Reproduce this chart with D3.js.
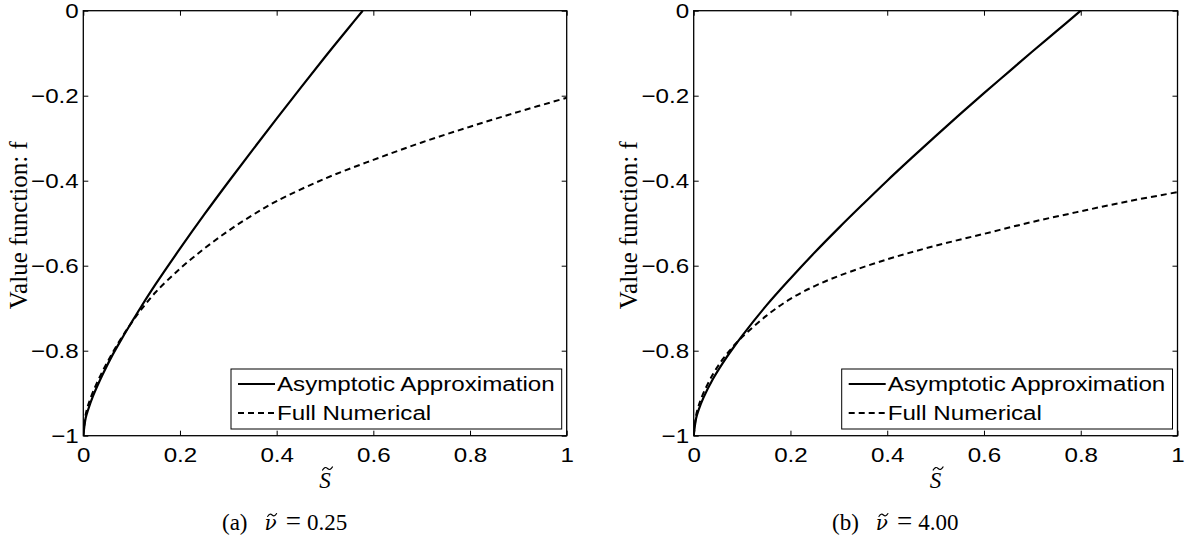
<!DOCTYPE html>
<html>
<head>
<meta charset="utf-8">
<script src="https://cdn.jsdelivr.net/npm/d3@7"></script>
<style>
  html, body { margin: 0; padding: 0; background: #fff; }
  svg { display: block; }
</style>
</head>
<body>
<svg id="fig" width="1194" height="542"></svg>
<script>
// Tick values shared by both panels
const xTicks = [0, 0.2, 0.4, 0.6, 0.8, 1];
const yTicks = [0, -0.2, -0.4, -0.6, -0.8, -1];

// Panel (a): nu = 0.25
const aAsymS = [0, 0.005, 0.01, 0.02, 0.04, 0.06, 0.08, 0.1, 0.12, 0.15, 0.2, 0.25, 0.3, 0.35, 0.4, 0.45, 0.5, 0.55, 0.578];
const aAsymF = [-1, -0.958, -0.939, -0.907, -0.856, -0.811, -0.771, -0.733, -0.696, -0.643, -0.560, -0.480, -0.403, -0.328, -0.254, -0.181, -0.109, -0.039, 0];
const aNumS  = [0, 0.005, 0.01, 0.02, 0.04, 0.06, 0.08, 0.1, 0.12, 0.15, 0.2, 0.25, 0.3, 0.35, 0.4, 0.5, 0.6, 0.7, 0.8, 0.9, 1.0];
const aNumF  = [-1, -0.95, -0.928, -0.897, -0.848, -0.806, -0.768, -0.734, -0.703, -0.662, -0.607, -0.560, -0.518, -0.481, -0.448, -0.395, -0.351, -0.310, -0.273, -0.238, -0.205];

// Panel (b): nu = 4.00
const bAsymS = [0, 0.005, 0.01, 0.02, 0.04, 0.06, 0.08, 0.1, 0.15, 0.2, 0.25, 0.3, 0.35, 0.4, 0.45, 0.5, 0.55, 0.6, 0.65, 0.7, 0.75, 0.8];
const bAsymF = [-1, -0.959, -0.940, -0.911, -0.866, -0.829, -0.796, -0.765, -0.694, -0.630, -0.569, -0.511, -0.455, -0.400, -0.347, -0.295, -0.244, -0.194, -0.145, -0.096, -0.048, 0];
const bNumS  = [0, 0.005, 0.01, 0.02, 0.04, 0.06, 0.08, 0.1, 0.15, 0.2, 0.25, 0.3, 0.4, 0.5, 0.6, 0.7, 0.8, 0.9, 1.0];
const bNumF  = [-1, -0.952, -0.930, -0.900, -0.855, -0.820, -0.792, -0.768, -0.718, -0.678, -0.648, -0.624, -0.585, -0.553, -0.525, -0.497, -0.472, -0.448, -0.427];

const legendLabels = ["Asymptotic Approximation", "Full Numerical"];
const yLabel = "Value function: f";

const svg = d3.select("#fig");
const sans = "'Liberation Sans', Arial, Helvetica, sans-serif";
const serif = "'Liberation Serif', 'DejaVu Serif', serif";
const SX = 1.15;   // horizontal stretch of the sans-serif glyphs

function zip(xs, ys) { return xs.map((x, i) => [x, ys[i]]); }

// Small tilde accent centred at (cx, cy)
function tilde(parent, cx, cy, w) {
  const a = cx - w / 2, h = w * 0.16;
  parent.append("path")
    .attr("d", `M${a},${cy + h} Q${a + w * 0.25},${cy - h * 1.6} ${a + w * 0.5},${cy} T${a + w},${cy - h}`)
    .attr("fill", "none").attr("stroke", "#000").attr("stroke-width", 1.1)
    .attr("stroke-linecap", "round");
}

function panel(cfg) {
  const { left, right, top, bottom } = cfg;
  const x = d3.scaleLinear().domain([0, 1]).range([left, right]);
  const y = d3.scaleLinear().domain([-1, 0]).range([bottom, top]);
  const g = svg.append("g");
  const fmt = v => (v === 0 ? "0" : String(v).replace("-", "\u2212"));

  // Bottom axis with inward ticks and labels
  const xb = g.append("g").attr("transform", `translate(0,${bottom})`)
    .call(d3.axisBottom(x).tickValues(xTicks).tickSize(-5).tickPadding(11).tickFormat(fmt));
  // Top axis (ticks only)
  const xt = g.append("g").attr("transform", `translate(0,${top})`)
    .call(d3.axisTop(x).tickValues(xTicks).tickSize(-5).tickFormat(""));
  // Left axis with labels
  const yl = g.append("g").attr("transform", `translate(${left},0)`)
    .call(d3.axisLeft(y).tickValues(yTicks).tickSize(-5).tickPadding(4).tickFormat(fmt));
  // Right axis (ticks only)
  const yr = g.append("g").attr("transform", `translate(${right},0)`)
    .call(d3.axisRight(y).tickValues(yTicks).tickSize(-5).tickFormat(""));

  [xb, xt, yl, yr].forEach(a => {
    a.select(".domain").remove();
    a.selectAll(".tick line").attr("stroke", "#000").attr("stroke-width", 1);
    a.selectAll("text").attr("font-family", sans).attr("font-size", 21).attr("fill", "#000")
      .attr("transform", `scale(${SX},1)`);
  });
  xb.selectAll("text").attr("dy", "0.71em");

  // Axes frame
  g.append("rect").attr("x", left).attr("y", top)
    .attr("width", right - left).attr("height", bottom - top)
    .attr("fill", "none").attr("stroke", "#000").attr("stroke-width", 1.3);

  // Curves
  const line = d3.line().x(d => x(d[0])).y(d => y(d[1])).curve(d3.curveCatmullRom.alpha(0.5));
  const clipId = "clip" + cfg.id;
  svg.append("clipPath").attr("id", clipId).append("rect")
    .attr("x", left).attr("y", top - 1).attr("width", right - left).attr("height", bottom - top + 2);
  g.append("path").datum(zip(cfg.numS, cfg.numF))
    .attr("d", line).attr("fill", "none").attr("stroke", "#000")
    .attr("stroke-width", 2).attr("stroke-dasharray", "6,4")
    .attr("clip-path", `url(#${clipId})`);
  g.append("path").datum(zip(cfg.asymS, cfg.asymF))
    .attr("d", line).attr("fill", "none").attr("stroke", "#000")
    .attr("stroke-width", 2.2)
    .attr("clip-path", `url(#${clipId})`);

  // Legend
  const lx = cfg.legendX, ly = 369, lw = right - 5 - lx, lh = 60;
  const lg = g.append("g");
  lg.append("rect").attr("x", lx).attr("y", ly).attr("width", lw).attr("height", lh)
    .attr("fill", "#fff").attr("stroke", "#000").attr("stroke-width", 1);
  const rows = [
    { label: legendLabels[0], dash: null, w: 2.2, yy: ly + 15 },
    { label: legendLabels[1], dash: "6,4", w: 2, yy: ly + 44 }
  ];
  rows.forEach(r => {
    lg.append("line").attr("x1", lx + 7).attr("x2", lx + 44)
      .attr("y1", r.yy).attr("y2", r.yy)
      .attr("stroke", "#000").attr("stroke-width", r.w)
      .attr("stroke-dasharray", r.dash);
    lg.append("text").attr("transform", `translate(${lx + 46},${r.yy}) scale(${SX},1)`)
      .attr("dy", "0.35em")
      .attr("font-family", sans).attr("font-size", 21).text(r.label);
  });

  // Y axis title
  g.append("text")
    .attr("transform", `translate(${cfg.yLabelX},${(top + bottom) / 2 + 2}) rotate(-90)`)
    .attr("text-anchor", "middle").attr("dy", "0.35em")
    .attr("font-family", serif).attr("font-size", 25).text(yLabel);

  // X axis title: S with tilde
  const sx = (left + right) / 2, sBase = 488;
  g.append("text").attr("x", sx).attr("y", sBase).attr("text-anchor", "middle")
    .attr("font-family", serif).attr("font-style", "italic").attr("font-size", 23).text("S");
  tilde(g, sx + 2.5, sBase - 19.5, 10);

  // Caption: (a) nu~ = 0.25
  const cy = 530;
  const cap = g.append("text").attr("x", cfg.capX).attr("y", cy)
    .attr("font-family", serif).attr("font-size", 23);
  cap.append("tspan").text(`(${cfg.id})`);
  cap.append("tspan").attr("dx", 17).attr("font-family", "'DejaVu Serif', serif")
    .attr("font-style", "italic").attr("font-size", 20).text("\u03BD");
  cap.append("tspan").attr("dx", 9).attr("font-size", 27).text("=");
  cap.append("tspan").attr("dx", 6).text(cfg.nu);
  const node = cap.node();
  const nuIdx = cfg.id.length + 2;
  const ext = node.getExtentOfChar(nuIdx);
  tilde(g, ext.x + ext.width / 2 + 1.5, cy - 15, 9);
}

panel({ id: "a", nu: "0.25", left: 83.3, right: 566.7, top: 10.7, bottom: 435.7,
        legendX: 231, yLabelX: 18, capX: 222,
        asymS: aAsymS, asymF: aAsymF, numS: aNumS, numF: aNumF });
panel({ id: "b", nu: "4.00", left: 693.7, right: 1177.5, top: 10.7, bottom: 435.7,
        legendX: 841.7, yLabelX: 628, capX: 832,
        asymS: bAsymS, asymF: bAsymF, numS: bNumS, numF: bNumF });
</script>
</body>
</html>
